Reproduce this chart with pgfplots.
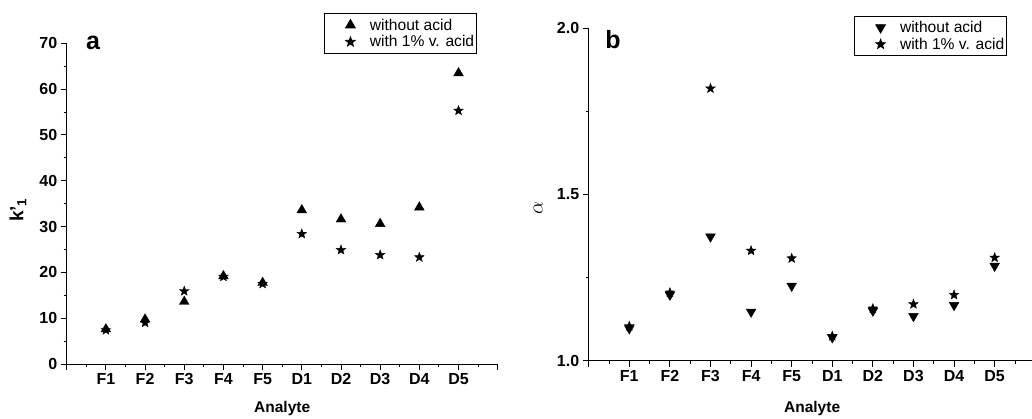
\documentclass[border=0pt]{standalone}
\usepackage{pgfplots}
\pgfplotsset{compat=1.18}
\usepackage{fontspec}
\setmainfont{Liberation Sans}

% filled five-pointed star
\pgfdeclareplotmark{fstar}{%
  \pgfpathmoveto{\pgfpointpolar{90}{\pgfplotmarksize}}%
  \pgfpathlineto{\pgfpointpolar{126}{0.42\pgfplotmarksize}}%
  \pgfpathlineto{\pgfpointpolar{162}{\pgfplotmarksize}}%
  \pgfpathlineto{\pgfpointpolar{198}{0.42\pgfplotmarksize}}%
  \pgfpathlineto{\pgfpointpolar{234}{\pgfplotmarksize}}%
  \pgfpathlineto{\pgfpointpolar{270}{0.42\pgfplotmarksize}}%
  \pgfpathlineto{\pgfpointpolar{306}{\pgfplotmarksize}}%
  \pgfpathlineto{\pgfpointpolar{342}{0.42\pgfplotmarksize}}%
  \pgfpathlineto{\pgfpointpolar{18}{\pgfplotmarksize}}%
  \pgfpathlineto{\pgfpointpolar{54}{0.42\pgfplotmarksize}}%
  \pgfpathclose
  \pgfusepathqfillstroke}

\pgfplotsset{
  panel/.style={
    scale only axis,
    axis lines=left,
    axis line style={-, line width=1pt},
    tick align=outside,
    major tick length=6pt,
    minor tick length=3pt,
    tick style={black, line width=0.9pt},
    xtick={0,...,11},
    xticklabels={,F1,F2,F3,F4,F5,D1,D2,D3,D4,D5,},
    minor x tick num=1,
    /pgf/number format/assume math mode=true,
    ticklabel style={font=\bfseries\fontsize{16}{16}\selectfont},
    label style={font=\bfseries\fontsize{15.5}{15.5}\selectfont},
    xlabel={Analyte},
    legend style={draw=black, line width=0.8pt, font=\fontsize{15.6}{18.5}\selectfont,
      anchor=north east, inner xsep=0pt, inner ysep=3pt},
    legend cell align=left,
    clip=false,
  },
  legmark/.style={legend image code/.code={%
    \path (-26pt,0pt) (17pt,0pt);
    \draw[##1] plot coordinates {(0pt,0pt)};}},
}

\begin{document}
\begin{tikzpicture}
\path[use as bounding box] (0,0) rectangle (1032pt,418pt);

% panel a
\begin{axis}[panel,
  at={(66.7pt,54pt)}, anchor=south west,
  width=431pt, height=320.7pt,
  xmin=0, xmax=11, ymin=0, ymax=70,
  ytick={0,10,...,70}, minor y tick num=1,
  x label style={at={(axis description cs:0.5,0)}, anchor=center, yshift=-44pt},
  y label style={at={(axis description cs:-0.113,0.48)}, anchor=center},
  ylabel={\fontsize{19}{19}\selectfont k'\textsubscript{1}},
  legend style={at={(0.951,1.0935)}},
]
\addplot[only marks, mark=triangle*, mark size=5.6pt, black, legmark] coordinates {
  (1,7.6)(2,9.75)(3,13.6)(4,19.2)(5,17.75)(6,33.6)(7,31.6)(8,30.6)(9,34.2)(10,63.5)};
\addlegendentry{without acid}
\addplot[only marks, mark=fstar, mark size=5pt, black, legmark] coordinates {
  (1,7.4)(2,9.0)(3,15.9)(4,19.05)(5,17.5)(6,28.4)(7,24.9)(8,23.8)(9,23.3)(10,55.3)};
\addlegendentry{with 1\% v. acid}
\node[font=\bfseries\fontsize{25}{25}\selectfont, anchor=base] at (axis description cs:0.061,0.981) {a};
\end{axis}

% panel b
\begin{axis}[panel,
  at={(588.7pt,57.3pt)}, anchor=south west,
  width=443.3pt, height=332.4pt,
  xmin=0, xmax=10.92, ymin=1, ymax=2,
  ytick={1.0,1.5,2.0}, minor y tick num=1,
  yticklabel style={/pgf/number format/.cd, fixed, fixed zerofill, precision=1},
  x label style={at={(axis description cs:0.504,0)}, anchor=center, yshift=-47.6pt},
  y label style={at={(axis description cs:-0.114,0.46)}, anchor=center},
  ylabel={\fontsize{20}{20}\selectfont$\alpha$},
  legend style={at={(0.943,1.038)}},
]
\addplot[only marks, mark=triangle*, mark size=5.6pt, mark options={rotate=180}, black, legmark] coordinates {
  (1,1.097)(2,1.198)(3,1.373)(4,1.147)(5,1.225)(6,1.070)(7,1.150)(8,1.134)(9,1.167)(10,1.285)};
\addlegendentry{without acid}
\addplot[only marks, mark=fstar, mark size=5pt, black, legmark] coordinates {
  (1,1.104)(2,1.205)(3,1.819)(4,1.331)(5,1.308)(6,1.074)(7,1.157)(8,1.170)(9,1.198)(10,1.310)};
\addlegendentry{with 1\% v. acid}
\node[font=\bfseries\fontsize{25}{25}\selectfont, anchor=base] at (axis description cs:0.055,0.94) {b};
\end{axis}
\end{tikzpicture}
\end{document}
